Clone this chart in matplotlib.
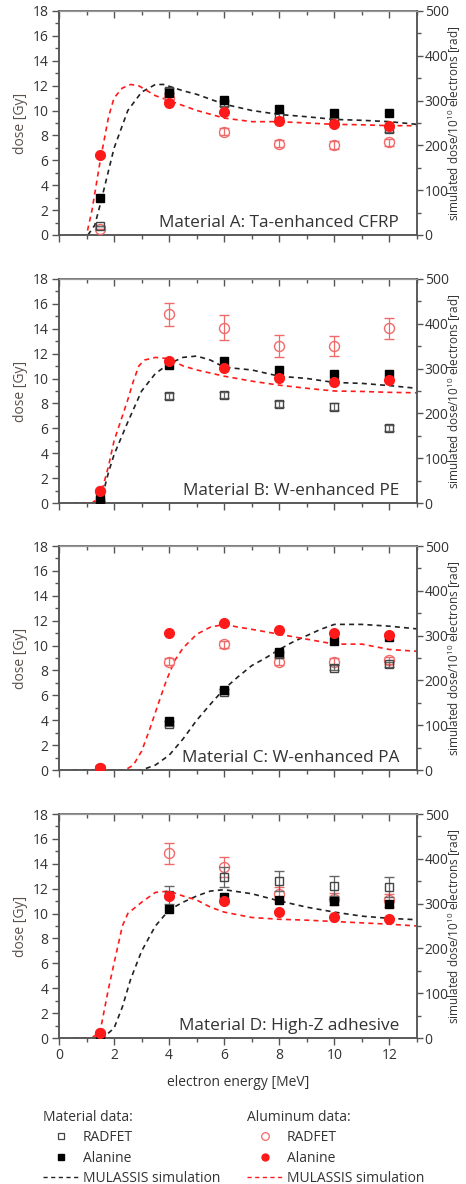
import matplotlib.pyplot as plt
from matplotlib.ticker import MultipleLocator
from matplotlib.lines import Line2D

plt.rcParams['font.family'] = ['Open Sans', 'DejaVu Sans']
plt.rcParams['mathtext.fontset'] = 'custom'
plt.rcParams['mathtext.rm'] = 'Open Sans'

# beam energies [MeV]
energy = [1.5, 4, 6, 8, 10, 12]

# ---- Material A: Ta-enhanced CFRP (measured dose, Gy) ----
a_mat_radfet = [0.7, 11.6, 10.6, 9.6, 9.2, 8.5]
a_mat_radfet_err = [0, 0.2, 0.2, 0.2, 0.2, 0.2]
a_mat_alanine = [3.0, 11.4, 10.85, 10.1, 9.8, 9.8]
a_al_radfet = [0.5, 11.0, 8.3, 7.35, 7.25, 7.45]
a_al_radfet_err = [0, 0.3, 0.3, 0.3, 0.3, 0.3]
a_al_alanine = [6.45, 10.6, 9.9, 9.15, 8.9, 8.75]
# simulation (rad per 1e10 electrons)
a_sim_mat_x = [1.05, 1.3, 1.5, 2.0, 2.5, 3.0, 3.5, 3.8, 4.5, 5, 6, 7, 8, 9, 10, 11, 12, 13]
a_sim_mat = [0, 22, 69, 194, 278, 319, 336, 336, 322, 314, 292, 278, 269, 264, 258, 256, 253, 247]
a_sim_al_x = [0.5, 1.0, 1.2, 1.5, 1.8, 2.0, 2.3, 2.6, 2.9, 3.5, 4, 5, 6, 7, 8, 9, 10, 11, 12, 13]
a_sim_al = [0, 0, 56, 167, 264, 306, 328, 336, 333, 311, 300, 278, 261, 253, 253, 250, 247, 246, 244, 244]

# ---- Material B: W-enhanced PE ----
b_mat_radfet = [0.2, 8.6, 8.7, 7.95, 7.75, 6.0]
b_mat_radfet_err = [0, 0.25, 0.25, 0.25, 0.25, 0.25]
b_mat_alanine = [0.3, 11.1, 11.4, 10.7, 10.4, 10.35]
b_al_radfet = [1.0, 15.15, 14.1, 12.6, 12.6, 14.05]
b_al_radfet_err = [0, 0.95, 1.0, 0.9, 0.8, 0.85]
b_al_alanine = [1.0, 11.4, 10.85, 10.05, 9.75, 9.85]
b_sim_mat_x = [1.4, 1.6, 1.8, 2.0, 2.5, 3.0, 3.5, 4.0, 4.5, 5.0, 5.5, 6, 7, 8, 9, 10, 11, 12, 13]
b_sim_mat = [0, 22, 69, 108, 181, 250, 289, 311, 325, 328, 319, 303, 297, 283, 278, 269, 267, 262, 256]
b_sim_al_x = [0.5, 1.2, 1.5, 1.8, 2.0, 2.3, 2.5, 2.7, 2.9, 3.1, 3.5, 4.0, 4.5, 5, 6, 7, 8, 9, 10, 11, 12, 13]
b_sim_al = [0, 0, 14, 83, 139, 194, 231, 272, 306, 319, 325, 322, 306, 297, 283, 272, 263, 256, 250, 249, 247, 246]

# ---- Material C: W-enhanced PA ----
c_mat_radfet = [0.1, 3.7, 6.3, 9.3, 8.2, 8.5]
c_mat_radfet_err = [0, 0.2, 0.2, 0.2, 0.2, 0.2]
c_mat_alanine = [0.05, 3.95, 6.4, 9.5, 10.4, 10.65]
c_al_radfet = [0.15, 8.7, 10.1, 8.7, 8.7, 8.8]
c_al_radfet_err = [0, 0.3, 0.3, 0.3, 0.3, 0.3]
c_al_alanine = [0.15, 11.0, 11.8, 11.25, 11.0, 10.85]
c_sim_mat_x = [0.5, 3.0, 3.5, 4.0, 4.5, 5.0, 5.5, 6.0, 6.5, 7.0, 7.5, 8.0, 8.5, 9, 9.5, 10, 10.5, 11, 12, 13]
c_sim_mat = [0, 0, 11, 33, 69, 111, 147, 181, 208, 233, 250, 269, 286, 300, 314, 325, 325, 325, 321, 315]
c_sim_al_x = [0.5, 2.4, 2.7, 3.0, 3.3, 3.6, 3.9, 4.2, 4.5, 5.0, 5.5, 6.0, 6.5, 7, 8, 9, 10, 11, 12, 13]
c_sim_al = [0, 0, 11, 42, 92, 147, 200, 244, 272, 303, 319, 325, 319, 314, 303, 292, 281, 281, 269, 265]

# ---- Material D: High-Z adhesive ----
d_mat_radfet = [0.1, 11.5, 12.95, 12.65, 12.25, 12.15]
d_mat_radfet_err = [0, 0.7, 0.8, 0.8, 0.8, 0.8]
d_mat_alanine = [0.1, 10.35, 11.3, 11.05, 11.0, 10.8]
d_al_radfet = [0.4, 14.85, 13.75, 11.6, 11.15, 11.05]
d_al_radfet_err = [0, 0.85, 0.8, 0.5, 0.5, 0.5]
d_al_alanine = [0.4, 11.45, 11.0, 10.15, 9.75, 9.6]
d_sim_mat_x = [1.5, 1.7, 2.0, 2.3, 2.6, 3.0, 3.5, 4.0, 4.5, 5.0, 5.5, 6.0, 7, 8, 9, 10, 11, 12, 13]
d_sim_mat = [0, 6, 22, 69, 131, 194, 250, 286, 303, 317, 328, 331, 322, 306, 292, 281, 272, 267, 264]
d_sim_al_x = [0.5, 1.2, 1.5, 1.8, 2.0, 2.3, 2.5, 3.0, 3.5, 4.0, 4.5, 5.0, 5.5, 6.0, 7, 8, 9, 10, 11, 12, 13]
d_sim_al = [0, 0, 17, 111, 167, 250, 278, 303, 325, 328, 317, 308, 292, 281, 269, 265, 263, 260, 257, 254, 250]

panel_titles = ['Material A: Ta-enhanced CFRP', 'Material B: W-enhanced PE',
                'Material C: W-enhanced PA', 'Material D: High-Z adhesive']

panels = [
    (a_mat_radfet, a_mat_radfet_err, a_mat_alanine, a_al_radfet, a_al_radfet_err, a_al_alanine,
     a_sim_mat_x, a_sim_mat, a_sim_al_x, a_sim_al),
    (b_mat_radfet, b_mat_radfet_err, b_mat_alanine, b_al_radfet, b_al_radfet_err, b_al_alanine,
     b_sim_mat_x, b_sim_mat, b_sim_al_x, b_sim_al),
    (c_mat_radfet, c_mat_radfet_err, c_mat_alanine, c_al_radfet, c_al_radfet_err, c_al_alanine,
     c_sim_mat_x, c_sim_mat, c_sim_al_x, c_sim_al),
    (d_mat_radfet, d_mat_radfet_err, d_mat_alanine, d_al_radfet, d_al_radfet_err, d_al_alanine,
     d_sim_mat_x, d_sim_mat, d_sim_al_x, d_sim_al),
]

W, H = 466, 1184
AX_COL = '#555555'
TXT = '#333333'
RED = '#ff1a1a'
LRED = '#f06a6a'
DASH = (0, (3, 2.5))
FS = 10

fig = plt.figure(figsize=(W / 100, H / 100), dpi=100)

left, right = 59, 417
bottoms = [235, 503, 770, 1038]
height = 224

for i, (title, data) in enumerate(zip(panel_titles, panels)):
    (m_rad, m_rad_err, m_ala, al_rad, al_rad_err, al_ala,
     sm_x, sm_y, sa_x, sa_y) = data
    ax = fig.add_axes([left / W, 1 - bottoms[i] / H, (right - left) / W, height / H])
    ax2 = ax.twinx()

    # simulation on the right axis, behind the markers
    ax2.plot(sm_x, sm_y, color='#222222', lw=1.2, ls=DASH)
    ax2.plot(sa_x, sa_y, color=RED, lw=1.2, ls=DASH)
    ax2.set_ylim(0, 500)
    ax2.yaxis.set_major_locator(MultipleLocator(100))
    ax2.yaxis.set_minor_locator(MultipleLocator(50))
    ax2.set_ylabel('simulated dose/10$^{\\mathregular{10}}$ electrons [rad]',
                   fontsize=8.5, color=TXT)
    ax2.yaxis.set_label_coords(1.082, 0.5)
    ax.set_zorder(ax2.get_zorder() + 1)
    ax.patch.set_visible(False)

    ax.errorbar(energy, al_rad, yerr=al_rad_err, fmt='o', ms=7.2, mfc='none', mec=LRED,
                mew=1.0, ecolor=LRED, elinewidth=0.9, capsize=3.5, capthick=0.9, zorder=3)
    ax.errorbar(energy, m_rad, yerr=m_rad_err, fmt='s', ms=5.8, mfc='none', mec='#444444',
                mew=1.0, ecolor='#666666', elinewidth=0.9, capsize=3.5, capthick=0.9, zorder=4)
    ax.plot(energy, m_ala, 's', ms=6.2, color='black', zorder=5)
    ax.plot(energy, al_ala, 'o', ms=7.0, color=RED, zorder=6)

    ax.set_xlim(0, 13)
    ax.set_ylim(0, 18)
    ax.xaxis.set_major_locator(MultipleLocator(2))
    ax.xaxis.set_minor_locator(MultipleLocator(1))
    ax.yaxis.set_major_locator(MultipleLocator(2))
    ax.yaxis.set_minor_locator(MultipleLocator(1))
    ax.set_ylabel('dose [Gy]', fontsize=FS, color='#5a504c', labelpad=3)

    for a in (ax, ax2):
        for sp in a.spines.values():
            sp.set_color(AX_COL)
            sp.set_linewidth(1.1)
        a.tick_params(which='both', colors=AX_COL, labelcolor=TXT, labelsize=FS,
                      direction='out', width=1.0)
        a.tick_params(which='major', length=5, pad=2.5)
        a.tick_params(which='minor', length=3)
    ax2.tick_params(which='major', length=4, pad=1.5)
    ax.spines['top'].set_color('#999999')
    ax.spines['top'].set_linewidth(0.8)

    top = ax.secondary_xaxis('top')
    top.xaxis.set_major_locator(MultipleLocator(2))
    top.xaxis.set_minor_locator(MultipleLocator(1))
    top.tick_params(which='both', direction='in', colors=AX_COL, labeltop=False, width=1.0)
    top.tick_params(which='major', length=5)
    top.tick_params(which='minor', length=3)
    top.spines['top'].set_color('#999999')
    top.spines['top'].set_linewidth(0.8)

    if i < 3:
        ax.tick_params(axis='x', labelbottom=False)
    else:
        ax.set_xlabel('electron energy [MeV]', fontsize=FS, color=TXT, labelpad=8)

    ax.text(0.95, 0.035, title, transform=ax.transAxes, ha='right', va='baseline',
            fontsize=12.4, color=TXT)

mat_handles = [
    Line2D([], [], ls='none', marker='s', ms=4.5, mfc='none', mec='#444444', mew=0.9),
    Line2D([], [], ls='none', marker='s', ms=4.5, color='black'),
    Line2D([], [], color='#222222', lw=1.0, ls=DASH),
]
al_handles = [
    Line2D([], [], ls='none', marker='o', ms=5.5, mfc='none', mec=LRED, mew=0.9),
    Line2D([], [], ls='none', marker='o', ms=5.0, color=RED),
    Line2D([], [], color=RED, lw=1.0, ls=DASH),
]
labels = ['RADFET', 'Alanine', 'MULASSIS simulation']

for handles, head, x0 in ((mat_handles, 'Material data:', 43), (al_handles, 'Aluminum data:', 247)):
    leg = fig.legend(handles, labels, title=head, loc='upper left',
                     bbox_to_anchor=(x0 / W, 1 - 1110 / H), frameon=False,
                     fontsize=FS, title_fontsize=FS, borderpad=0, borderaxespad=0,
                     handlelength=2.6, handletextpad=0.25, labelspacing=0.38,
                     alignment='left')
    for t in leg.get_texts():
        t.set_color(TXT)
    leg.get_title().set_color(TXT)

fig.savefig('out.png', dpi=100)
